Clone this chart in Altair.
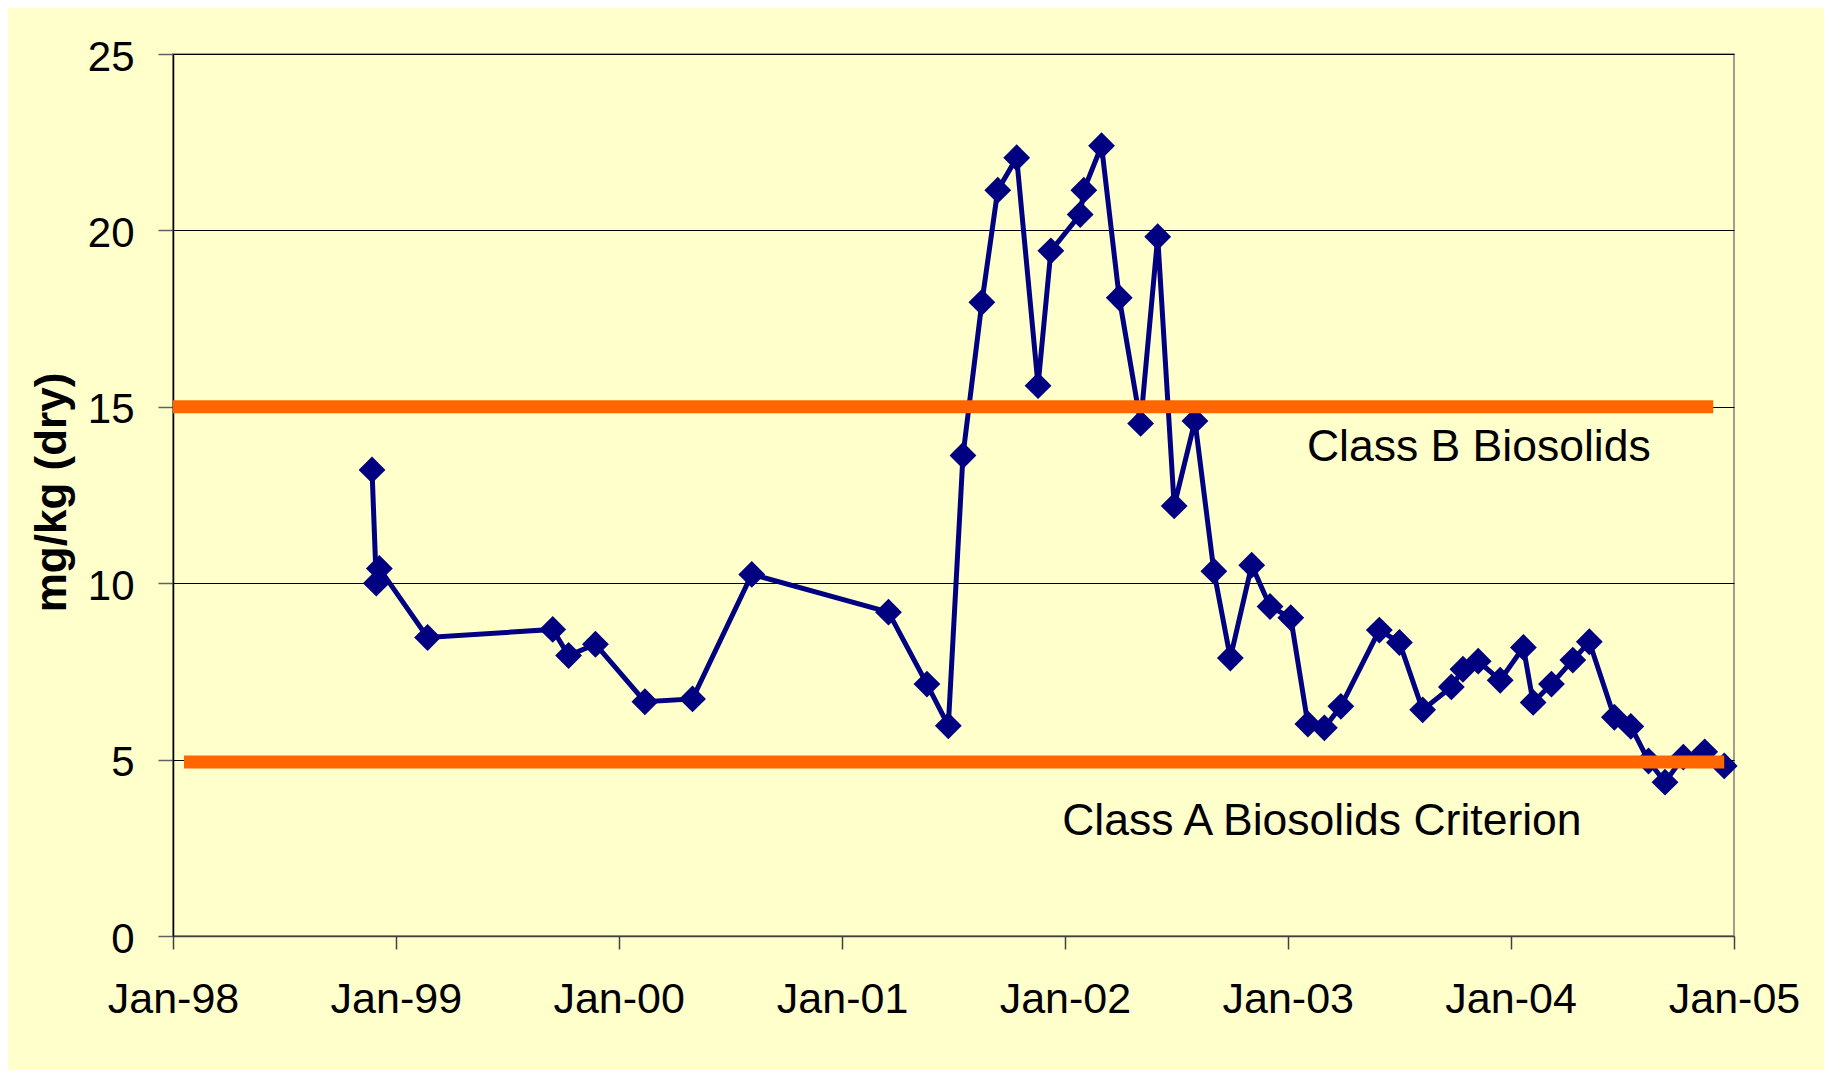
import altair as alt
import pandas as pd

# Sample dates and concentrations (mg/kg dry)
dates = [
    "1998-11-23", "1998-11-30", "1998-12-05", "1999-02-22", "1999-09-15",
    "1999-10-11", "1999-11-24", "2000-02-13", "2000-05-01", "2000-08-06",
    "2001-03-18", "2001-05-20", "2001-06-24", "2001-07-18", "2001-08-18",
    "2001-09-13", "2001-10-14", "2001-11-18", "2001-12-09", "2002-01-26",
    "2002-02-01", "2002-03-02", "2002-03-31", "2002-05-05", "2002-06-02",
    "2002-06-29", "2002-08-02", "2002-09-02", "2002-09-29", "2002-11-03",
    "2002-12-03", "2003-01-06", "2003-02-03", "2003-03-02", "2003-03-29",
    "2003-05-31", "2003-07-03", "2003-08-10", "2003-09-26", "2003-10-15",
    "2003-11-09", "2003-12-15", "2004-01-22", "2004-02-07", "2004-03-08",
    "2004-04-12", "2004-05-09", "2004-06-19", "2004-07-16", "2004-08-14",
    "2004-09-10", "2004-10-10", "2004-11-14", "2004-12-16",
]
values = [
    13.21, 10.00, 10.42, 8.46, 8.69,
    7.95, 8.27, 6.64, 6.72, 10.25,
    9.18, 7.14, 5.96, 13.62, 17.96,
    21.14, 22.06, 15.60, 19.42, 20.45,
    21.14, 22.40, 18.09, 14.53, 19.82,
    12.19, 14.60, 10.34, 7.88, 10.51,
    9.34, 9.02, 6.01, 5.90, 6.51,
    8.67, 8.32, 6.41, 7.06, 7.56,
    7.79, 7.25, 8.18, 6.62, 7.14,
    7.82, 8.34, 6.20, 5.94, 4.96,
    4.36, 5.07, 5.22, 4.82,
]

# Criterion lines
ref_values = [15.0, 4.93]
ref_start = ["1998-01-01", "1998-01-19"]
ref_end = ["2004-11-28", "2004-12-16"]

# Annotations
label_texts = ["Class B Biosolids", "Class A Biosolids Criterion"]
label_dates = ["2003-11-10", "2003-02-26"]
label_values = [13.46, 2.86]

# Axis ticks
tick_dates = ["1998-01-01", "1999-01-01", "2000-01-01", "2001-01-01",
              "2002-01-01", "2003-01-01", "2004-01-01", "2005-01-01"]
y_ticks = [0, 5, 10, 15, 20, 25]


def ms(d):
    return int(pd.Timestamp(d, tz="UTC").value // 10**6)


tick_ms = [ms(d) for d in tick_dates]

df = pd.DataFrame({"date": dates, "value": values})
refs = pd.DataFrame({"start": ref_start, "end": ref_end, "value": ref_values})
labels = pd.DataFrame({"date": label_dates, "value": label_values, "text": label_texts})

FONT = "Liberation Sans"
xscale = alt.Scale(type="utc", domain=[tick_ms[0], tick_ms[-1]])
yscale = alt.Scale(domain=[0, 25], nice=False)

x_axis = alt.Axis(
    values=tick_ms, labelExpr="utcFormat(datum.value, '%b-%y')", title=None,
    grid=False, domainColor="#404040", domainWidth=1.5,
    tickColor="#404040", tickSize=13, tickWidth=1.5,
    labelFont=FONT, labelFontSize=43, labelColor="black",
    labelPadding=29, labelFlush=False, labelOverlap=False,
)
y_axis = alt.Axis(
    values=y_ticks, title="mg/kg (dry)", titleFont=FONT, titleFontSize=44,
    titleFontWeight="bold", titleColor="black", titleAngle=270,
    titleAlign="center", titleBaseline="alphabetic", titleX=-108, titleY=438,
    grid=True, gridColor="#000000", gridWidth=1.2,
    domainColor="black", domainWidth=1.5,
    tickColor="#606060", tickSize=15, tickWidth=1.5,
    labelFont=FONT, labelFontSize=42, labelColor="black",
    labelPadding=24, labelOffset=3,
)

X = lambda f: alt.X(f, type="temporal", scale=xscale, axis=x_axis)
Y = alt.Y("value:Q", scale=yscale, axis=y_axis)

line = alt.Chart(df).mark_line(color="#000080", strokeWidth=5).encode(
    x=X("date"), y=Y,
)
points = alt.Chart(df).mark_point(
    shape="diamond", filled=True, size=720, color="#000080", opacity=1
).encode(x=X("date"), y=Y)
rules = alt.Chart(refs).mark_rule(color="#FF6600", strokeWidth=13, strokeCap="butt").encode(
    x=X("start"), x2="end:T", y=Y,
)
texts = alt.Chart(labels).mark_text(
    font=FONT, fontSize=44.5, align="center", baseline="alphabetic", color="black"
).encode(x=X("date"), y=Y, text="text:N")

chart = alt.layer(line, points, rules, texts).properties(
    width=1561, height=882,
    autosize=alt.AutoSizeParams(type="none"),
    padding={"left": 165, "top": 46, "right": 90, "bottom": 134},
    background="#FFFFCC",
).configure_view(stroke="#808080", strokeWidth=1.5)

chart.save("out.html", embed_options={"renderer": "svg", "actions": False})
